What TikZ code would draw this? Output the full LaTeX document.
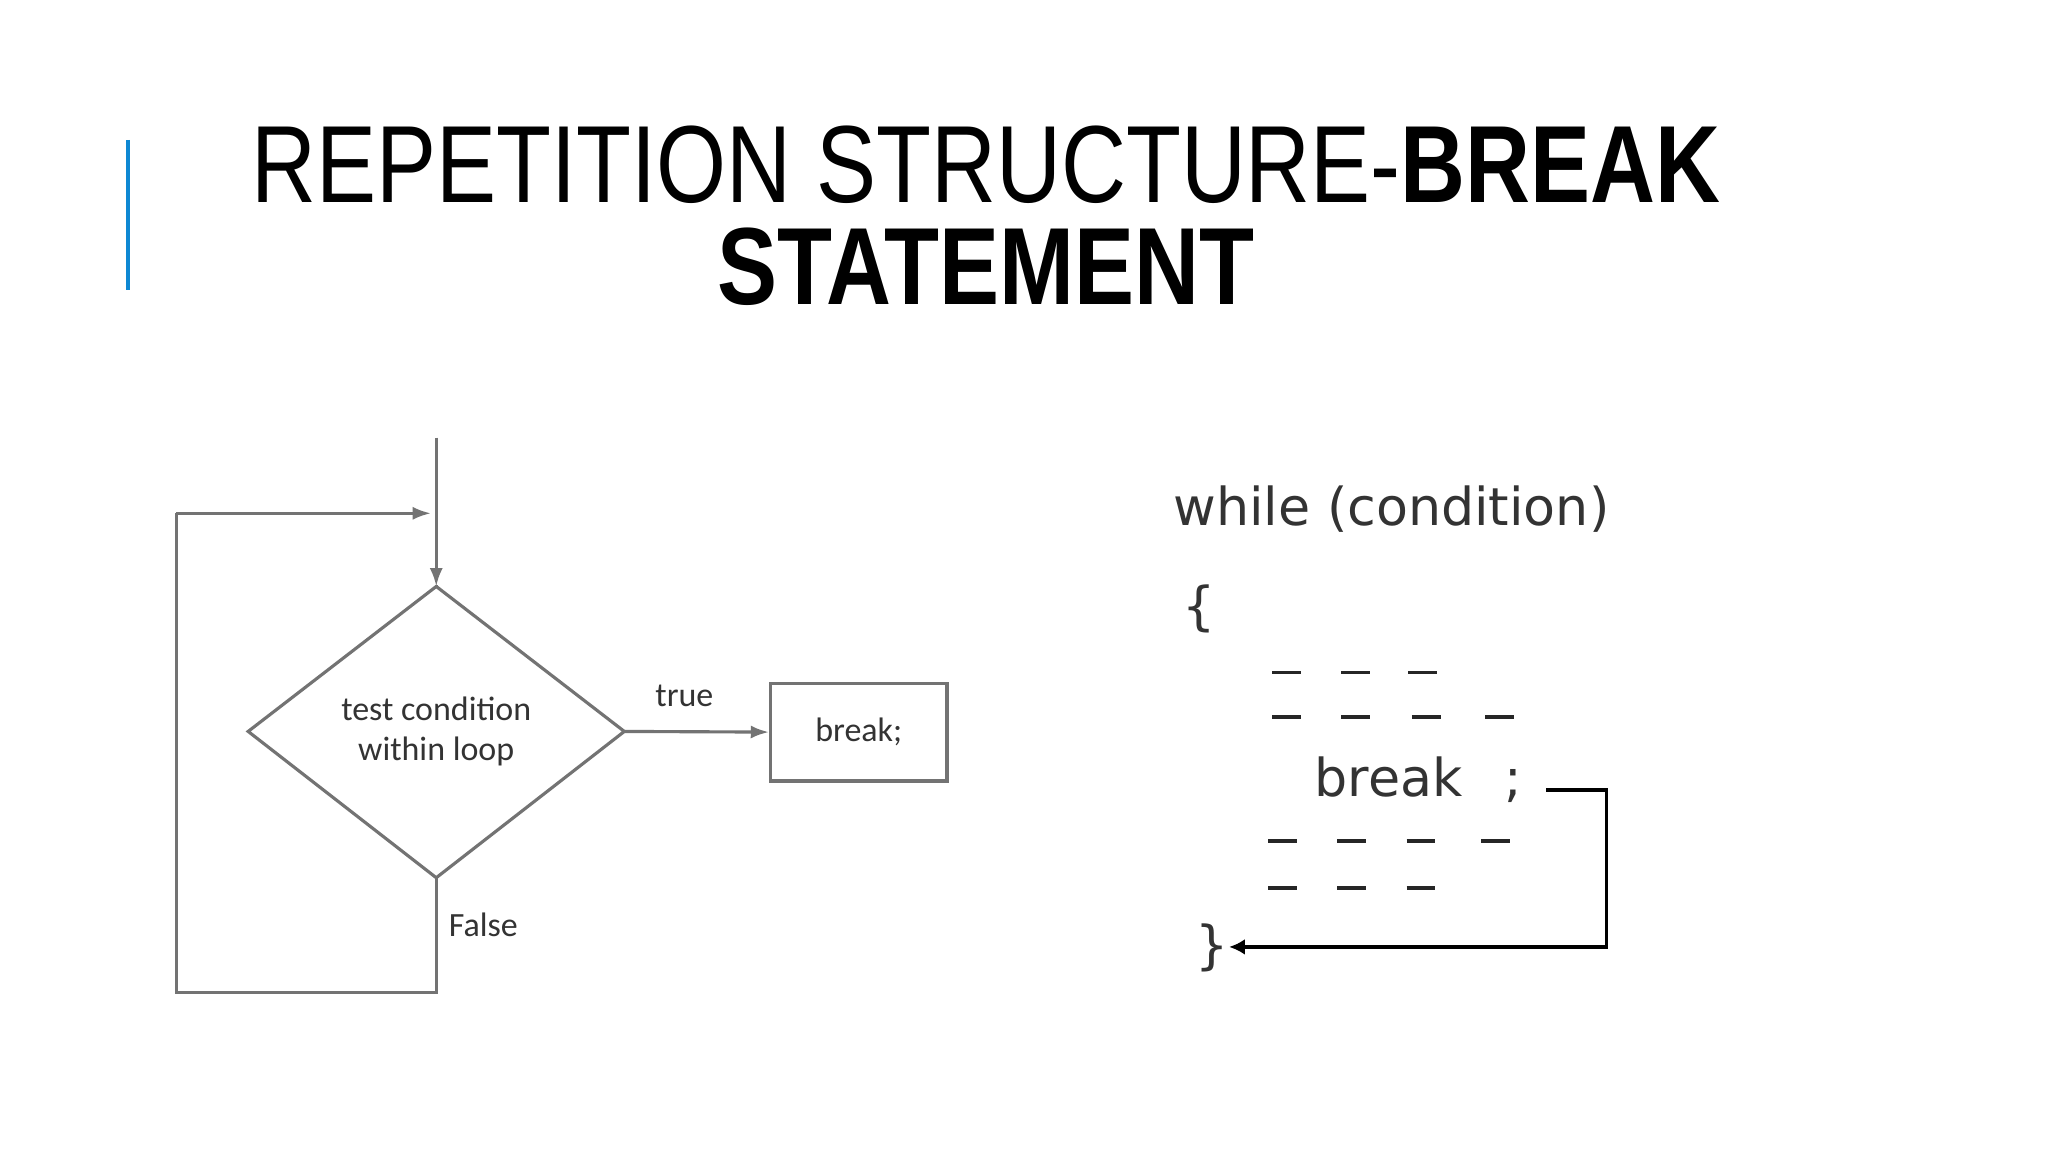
\documentclass[tikz,border=0pt]{standalone}
\usepackage{fontspec}
\setmainfont{Liberation Sans}
\newfontfamily\titlefont[FakeStretch=0.82]{Liberation Sans}
\newfontfamily\flowfont{Carlito}
\newfontfamily\codefont{DejaVu Sans}
\usetikzlibrary{arrows.meta}
\begin{document}
\begin{tikzpicture}[x=0.5pt,y=-0.5pt,
  fl/.style={draw=black!55,line width=1.2pt},
  fa/.style={fl,-{Latex[length=7pt,width=5pt]}},
  ft/.style={font=\flowfont\fontsize{13}{15}\selectfont,text=black!80,align=center},
  cd/.style={font=\codefont\fontsize{20}{22}\selectfont,text=black!80,anchor=base west,inner sep=0},
  dsh/.style={line width=1.4pt,black!85}]
\useasboundingbox (0,0) rectangle (1568,882);
\fill[white] (0,0) rectangle (1568,882);
\draw[line width=1.2pt,cyan!70!blue] (98,107) -- (98,222);
\node[font=\titlefont\fontsize{42}{44}\selectfont,anchor=base] (t1) at (755,155) {REPETITION STRUCTURE-\textbf{BREAK}};
\node[font=\titlefont\fontsize{42}{44}\selectfont\bfseries,anchor=base] (t2) at (755,233) {STATEMENT};
% flowchart
\coordinate (in) at (334,335);
\node[fl,draw,shape=rectangle,minimum width=0,inner sep=0] (dT) at (334,449) {};
\coordinate (dt) at (334,449);
\coordinate (dl) at (190,560);
\coordinate (dr) at (478,560);
\coordinate (db) at (334,672);
\draw[fl] (dt) -- (dr) -- (db) -- (dl) -- cycle;
\node[ft] (tc) at (334,560) {test condition\\within loop};
\draw[fa] (in) -- (dt);
\node[fl,draw,minimum width=67.5pt,minimum height=37.5pt,inner sep=0,ft] (br) at (657.5,560.5) {break;};
\draw[fa] (dr) -- (br.west);
\node[ft] (tl) at (524,533) {true};
\node[ft] (fl) at (370,708) {False};
\coordinate (c1) at (334,760);
\coordinate (c2) at (135,760);
\coordinate (c3) at (135,393);
\coordinate (c4) at (330,393);
\draw[fl] (db) -- (c1) -- (c2) -- (c3);
\draw[fa] (c3) -- (c4);
% code
\node[cd] (w) at (898,402) {while (condition)};
\node[cd] (ob) at (905,478) {\{};
\node[cd] (bk) at (1006,610) {break \ \,;};
\node[cd] (cb) at (915,738) {\}};
\foreach \x in {985,1038,1089} \draw[dsh] (\x-11,515) -- (\x+11,515);
\foreach \x in {985,1038,1092,1148} \draw[dsh] (\x-11,549) -- (\x+11,549);
\foreach \x in {982,1035,1088,1145} \draw[dsh] (\x-11,644) -- (\x+11,644);
\foreach \x in {982,1035,1088} \draw[dsh] (\x-11,680) -- (\x+11,680);
\coordinate (e1) at (1184,605);
\coordinate (e2) at (1230,605);
\coordinate (e3) at (1230,725);
\coordinate (e4) at (941,725);
\draw[line width=1.4pt,-{Latex[length=6pt,width=6pt]}] (e1) -- (e2) -- (e3) -- (e4);
\end{tikzpicture}
\end{document}
